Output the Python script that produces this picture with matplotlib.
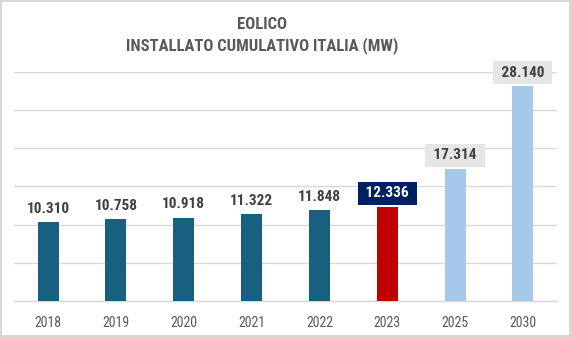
import matplotlib.pyplot as plt
from matplotlib.patches import Rectangle

years = ["2018", "2019", "2020", "2021", "2022", "2023", "2025", "2030"]
capacity_mw = [10310, 10758, 10918, 11322, 11848, 12336, 17314, 28140]
value_labels = ["10.310", "10.758", "10.918", "11.322", "11.848", "12.336", "17.314", "28.140"]

dark = "#17607F"
red = "#C00000"
light = "#A6C9EA"
bar_colors = [dark, dark, dark, dark, dark, red, light, light]

narrow = ["Roboto Condensed", "Liberation Sans"]
title_font = ["Roboto Condensed", "Liberation Sans"]

fig = plt.figure(figsize=(5.71, 3.37), dpi=100)
fig.patch.set_facecolor("white")
fig.add_artist(Rectangle((0.002, 0.003), 0.996, 0.994, transform=fig.transFigure,
                         fill=False, edgecolor="#D0D0D0", linewidth=1.2))

ax = fig.add_axes([0.025, 0.107, 0.95, 0.68])
x = list(range(len(years)))
ax.bar(x, capacity_mw, width=0.31, color=bar_colors, zorder=3)
ax.set_xlim(-0.5, len(years) - 0.5)
ax.set_ylim(0, 30000)
ax.set_yticks(range(0, 30001, 5000))
ax.yaxis.grid(True, color="#D9D9D9", linewidth=1.0, zorder=0)
ax.tick_params(axis="y", left=False, labelleft=False)
ax.tick_params(axis="x", bottom=False, pad=7)
ax.set_xticks(x)
ax.set_xticklabels(years, fontsize=10, color="#595959", family=narrow)
for s in ["top", "right", "left"]:
    ax.spines[s].set_visible(False)
ax.spines["bottom"].set_color("#D9D9D9")
ax.spines["bottom"].set_linewidth(1.0)

for i, (v, lab) in enumerate(zip(capacity_mw, value_labels)):
    if i == 5:
        box = dict(boxstyle="square,pad=0.3", facecolor="#002060", edgecolor="none")
        tc = "white"
        lab = f" {lab} "
    elif i >= 6:
        box = dict(boxstyle="square,pad=0.3", facecolor="#E7E6E6", edgecolor="none")
        tc = "#404040"
        lab = f" {lab} "
    else:
        box = None
        tc = "#404040"
    ax.annotate(lab, (i, v), xytext=(0, 4.5), textcoords="offset points",
                ha="center", va="bottom", fontsize=11, fontweight="bold",
                family=narrow, color=tc, bbox=box, zorder=4)

title_x = 0.459
fig.text(title_x, 0.926, "EOLICO", ha="center", va="center", fontsize=12,
         fontweight="bold", color="#595959", family=title_font)
fig.text(title_x, 0.866, "INSTALLATO CUMULATIVO ITALIA (MW)", ha="center", va="center",
         fontsize=12, fontweight="bold", color="#595959", family=title_font)

fig.savefig("out.png", dpi=100)
